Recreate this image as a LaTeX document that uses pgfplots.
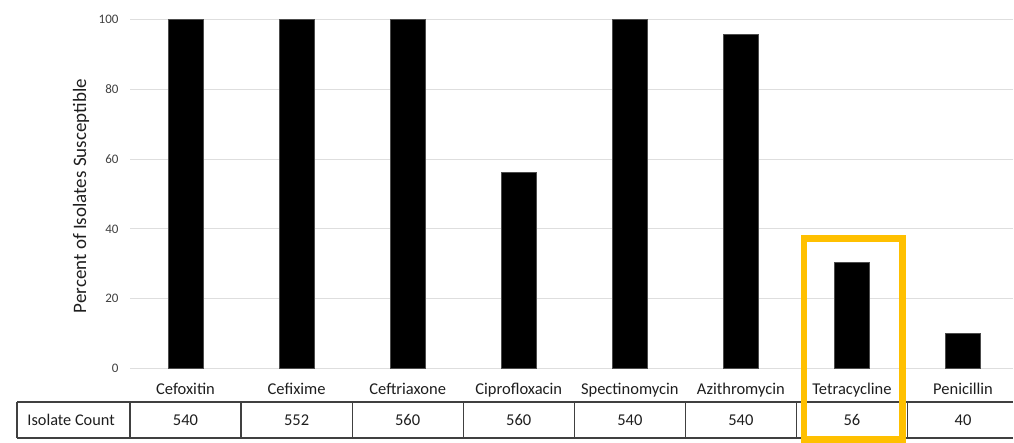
\documentclass[border=0pt]{standalone}
\usepackage{pgfplots}
\pgfplotsset{compat=1.18}
\usepackage{pgfplotstable}
\usepackage{fontspec}
\setmainfont{Carlito}

\definecolor{gridgray}{RGB}{222,222,222}
\definecolor{tickgray}{RGB}{64,64,64}
\definecolor{textdark}{RGB}{30,30,30}
\definecolor{highlight}{RGB}{255,192,0}

% percent susceptible and number of isolates tested, per antibiotic
\pgfplotstableread{
idx pct count
0 100 540
1 100 552
2 100 560
3 56.3 560
4 100 540
5 95.8 540
6 30.3 56
7 10.1 40
}\susceptibility

\begin{document}
\begin{tikzpicture}
\useasboundingbox (0pt,0pt) rectangle (1014pt,443pt);
\begin{axis}[
  at={(130pt,74.5pt)}, anchor=south west,
  scale only axis, width=883pt, height=349pt,
  xmin=-0.5, xmax=7.45, ymin=0, ymax=100,
  clip=false,
  axis line style={draw=none},
  major tick length=0pt,
  ytick={0,20,...,100},
  ymajorgrids, grid style={draw=gridgray, line width=1pt},
  xtick={0,...,7},
  xticklabels={Cefoxitin,Cefixime,Ceftriaxone,Ciprofloxacin,Spectinomycin,Azithromycin,Tetracycline,Penicillin},
  xticklabel style={font=\fontsize{16.5}{19}\selectfont, text=textdark, yshift=-11pt},
  yticklabel style={font=\fontsize{13}{15}\selectfont, text=tickgray, xshift=-8pt},
  /pgf/number format/assume math mode=true,
  ylabel={Percent of Isolates Susceptible},
  every axis y label/.style={at={(axis description cs:-0.0555,0.494)}, rotate=90, anchor=center, font=\fontsize{19}{21}\selectfont, text=textdark},
]
\addplot[ybar, bar width=0.315, fill=black, draw=black!70, line width=0.6pt]
  table[x=idx, y=pct] {\susceptibility};

% isolate count row beneath the categories
\addplot[draw=none, nodes near coords, point meta=explicit symbolic,
  nodes near coords style={anchor=center, font=\fontsize{16.5}{19}\selectfont, text=textdark}]
  table[x=idx, y expr=-14.8, meta=count] {\susceptibility};

\draw[tickgray, line width=1.2pt] (axis cs:-1.517,-9.6) -- (axis cs:7.45,-9.6);
\draw[tickgray, line width=1.2pt] (axis cs:-1.517,-19.9) -- (axis cs:7.45,-19.9);
\pgfplotsinvokeforeach{-1.517,-0.5,0.5,1.5,2.5,3.5,4.5,5.5,6.5}{
  \draw[tickgray, line width=1.2pt] (axis cs:#1,-9.6) -- (axis cs:#1,-19.9);
}
\node[font=\fontsize{16.3}{19}\selectfont, text=textdark] at (axis cs:-1.03,-14.8) {Isolate Count};

% highlight around the tetracycline column
\draw[highlight, line width=6.6pt] (axis cs:5.567,-20.4) rectangle (axis cs:6.454,37.3);
\end{axis}
\end{tikzpicture}
\end{document}
